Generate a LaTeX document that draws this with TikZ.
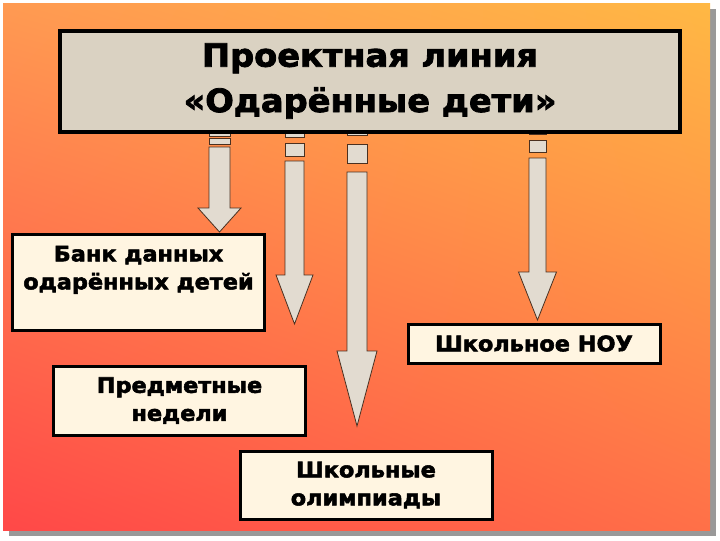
\documentclass[tikz,border=0pt]{standalone}
\usepackage{fontspec}
\setmainfont{DejaVu Sans}[FakeStretch=1.05, BoldFeatures={FakeBold=2.5}]
\usetikzlibrary{positioning, calc, shadings}
\definecolor{slideTL}{HTML}{FF9A52}
\definecolor{slideTR}{HTML}{FFB844}
\definecolor{slideBL}{HTML}{FF4848}
\definecolor{slideBR}{HTML}{FF7048}
\definecolor{titleFill}{HTML}{DAD2C2}
\definecolor{boxCream}{HTML}{FFF5E1}
\definecolor{arrowFill}{HTML}{E2DBD0}
\definecolor{arrowEdge}{HTML}{4A3020}
\tikzset{
  topicbox/.style={draw=black, line width=2.25pt, fill=boxCream, minimum width=189pt,
    inner sep=0pt, align=center, font=\bfseries\fontsize{16}{21}\selectfont},
  blockarrow/.style={draw=arrowEdge, line width=0.6pt, fill=arrowFill, line join=miter}
}

\begin{document}
\begin{tikzpicture}[x=0.75pt, y=-0.75pt]
\useasboundingbox (0,0) rectangle (720,540);
\fill[white] (0,0) rectangle (720,540);
% slide with its shadow
\fill[black!40] (9,9) rectangle (716,536);
\shade[upper left=slideTL, upper right=slideTR, lower left=slideBL, lower right=slideBR]
  (3,3) rectangle (710,530);

% block arrows: x / half shaft / half head / gap bars / shaft top / head top / tip
\foreach \cx/\hw/\hh/\sa/\sb/\sc/\sd/\st/\hs/\tp [count=\i] in {
  219.5/10.5/21.5/132/136/138/144/147/208/232,
  294.5/9.5/18.5/131/137/143/156/161/275/324,
  357/10/20/127/135/144/163/172/351/426,
  537.5/8.5/19/129/134/140/152/158/272/320}{
  \draw[blockarrow] (\cx-\hw,\sa) rectangle (\cx+\hw,\sb);
  \draw[blockarrow] (\cx-\hw,\sc) rectangle (\cx+\hw,\sd);
  \draw[blockarrow] (\cx-\hw,\st) -- (\cx+\hw,\st) -- (\cx+\hw,\hs) -- (\cx+\hh,\hs)
    -- (\cx,\tp) -- (\cx-\hh,\hs) -- (\cx-\hw,\hs) -- cycle;
  \coordinate (tip\i) at (\cx,\tp);
}

\node[draw=black, line width=3pt, fill=titleFill, minimum width=465pt, minimum height=75.75pt,
  align=center, font=\bfseries\fontsize{24}{34}\selectfont] (title) at (370,81)
  {Проектная линия\\«Одарённые дети»};

\node[topicbox, minimum height=72pt] (bank) at (138.5,282) {};
\node[anchor=north, align=center, inner sep=0pt, font=\bfseries\fontsize{16}{21}\selectfont]
  (banktext) at ($(bank.north)+(0,13)$) {Банк данных\\одарённых детей};
\node[topicbox, minimum height=29.25pt] (nou) at (534,343.5) {Школьное НОУ};
\node[topicbox, minimum height=51.75pt] (weeks) at (179.5,400.5) {Предметные\\недели};
\node[topicbox, minimum height=51pt] (olymp) at (366,485) {Школьные\\олимпиады};
\end{tikzpicture}
\end{document}
